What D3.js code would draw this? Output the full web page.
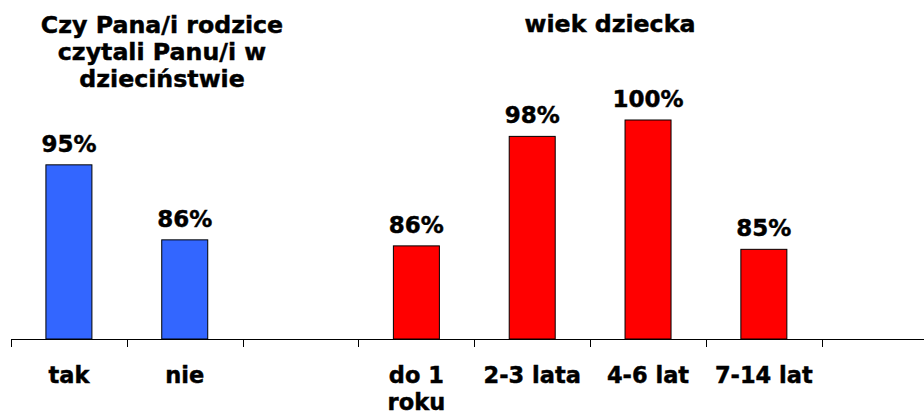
<!DOCTYPE html>
<html>
<head>
<meta charset="utf-8">
<script src="https://cdn.jsdelivr.net/npm/d3@7"></script>
<style>
  html, body { margin: 0; padding: 0; background: #fff; }
  svg { display: block; }
  text { font-family: "DejaVu Sans", Verdana, sans-serif; font-weight: bold; fill: #000; stroke: #000; stroke-width: 0.45px; }
</style>
</head>
<body>
<svg id="chart" width="924" height="415"></svg>
<script>
// ---- data ----
const categories = ["tak", "nie", "gap1", "do 1 roku", "2-3 lata", "4-6 lat", "7-14 lat", "gap2"];
const categoryLabels = [["tak"], ["nie"], [], ["do 1", "roku"], ["2-3 lata"], ["4-6 lat"], ["7-14 lat"], []];
const groupParentsCats = ["tak", "nie"];
const groupParentsValues = [94.8, 86.1];
const groupParentsLabels = ["95%", "86%"];
const groupAgeCats = ["do 1 roku", "2-3 lata", "4-6 lat", "7-14 lat"];
const groupAgeValues = [85.4, 98.1, 100, 85.0];
const groupAgeLabels = ["86%", "98%", "100%", "85%"];
const titleParents = ["Czy Pana/i rodzice", "czytali Panu/i w", "dzieciństwie"];
const titleAge = ["wiek dziecka"];

// ---- layout ----
const svg = d3.select("#chart");
const baseY = 339;
const x = d3.scaleBand().domain(categories).range([11, 937.6]).paddingInner(0).paddingOuter(0);
const y = d3.scaleLinear().domain([74.6, 100]).range([baseY, 120]);
const barW = 46;

const bars = [];
groupParentsCats.forEach((c, i) => bars.push({cat: c, v: groupParentsValues[i], label: groupParentsLabels[i], color: "#3366FF"}));
groupAgeCats.forEach((c, i) => bars.push({cat: c, v: groupAgeValues[i], label: groupAgeLabels[i], color: "#FF0000"}));

// bars
svg.append("g").selectAll("rect").data(bars).join("rect")
  .attr("x", d => x(d.cat) + x.bandwidth() / 2 - barW / 2)
  .attr("y", d => y(d.v))
  .attr("width", barW)
  .attr("height", d => baseY - y(d.v))
  .attr("fill", d => d.color)
  .attr("stroke", "#000")
  .attr("stroke-width", 1);

// value labels
svg.append("g").selectAll("text").data(bars).join("text")
  .attr("x", d => x(d.cat) + x.bandwidth() / 2)
  .attr("y", d => y(d.v) - 13)
  .attr("text-anchor", "middle")
  .style("font-size", "23px")
  .text(d => d.label);

// axis line
const ax = svg.append("g");
ax.append("line")
  .attr("x1", x.range()[0]).attr("x2", x.range()[1])
  .attr("y1", baseY + 0.5).attr("y2", baseY + 0.5)
  .attr("stroke", "#000").attr("stroke-width", 1);
ax.selectAll("line.tick").data(categories).join("line")
  .attr("class", "tick")
  .attr("x1", d => Math.round(x(d)) + 0.5).attr("x2", d => Math.round(x(d)) + 0.5)
  .attr("y1", baseY).attr("y2", baseY + 8)
  .attr("stroke", "#000").attr("stroke-width", 1);

// category labels
const catG = svg.append("g");
categories.forEach((c, i) => {
  const t = catG.append("text")
    .attr("x", x(c) + x.bandwidth() / 2)
    .attr("y", 383)
    .attr("text-anchor", "middle")
    .style("font-size", "22.5px");
  categoryLabels[i].forEach((ln, j) => {
    t.append("tspan").attr("x", x(c) + x.bandwidth() / 2).attr("y", 383 + j * 27).text(ln);
  });
});

// titles
const t1 = svg.append("text").attr("text-anchor", "middle").style("font-size", "23.7px");
titleParents.forEach((ln, j) => t1.append("tspan").attr("x", 162).attr("y", 33 + j * 27).text(ln));
const t2 = svg.append("text").attr("text-anchor", "middle").style("font-size", "23.7px");
titleAge.forEach((ln, j) => t2.append("tspan").attr("x", 610).attr("y", 32 + j * 27).text(ln));
</script>
</body>
</html>
